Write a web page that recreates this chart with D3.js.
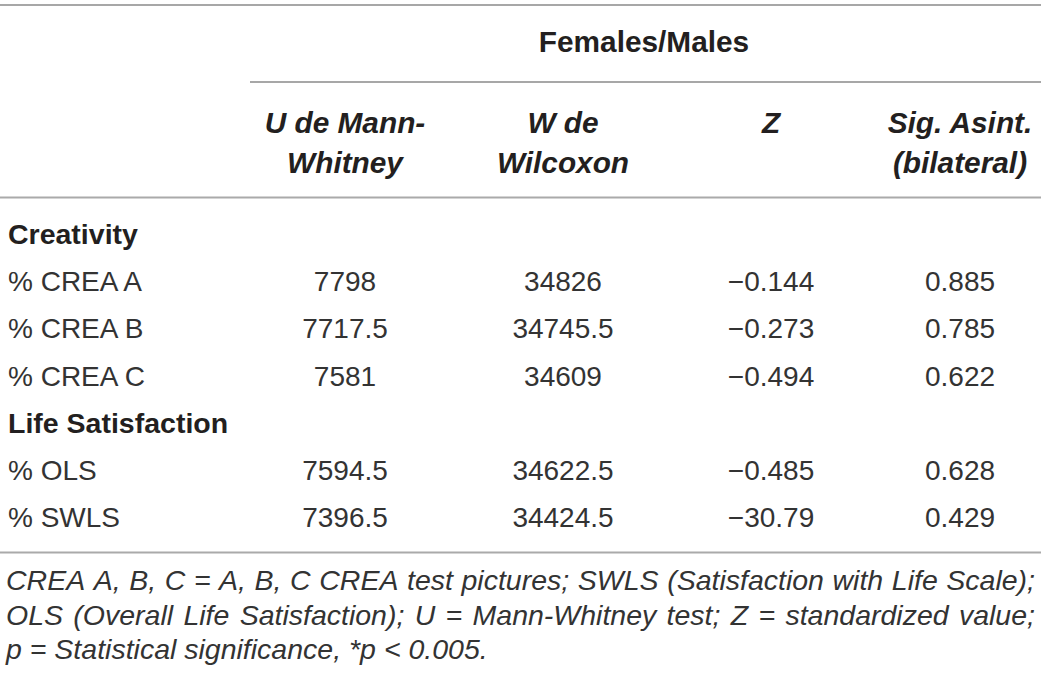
<!DOCTYPE html>
<html>
<head>
<meta charset="utf-8">
<script src="https://cdn.jsdelivr.net/npm/d3@7"></script>
<style>
  html, body { margin: 0; padding: 0; background: #fff; }
  svg { display: block; }
</style>
</head>
<body>
<svg id="chart" width="1041" height="676"></svg>
<script>
// ---------- data ----------
const groupTitle = "Females/Males";
const columnHeaders = [
  ["U de Mann-", "Whitney"],
  ["W de", "Wilcoxon"],
  ["Z"],
  ["Sig. Asint.", "(bilateral)"]
];
const sections = ["Creativity", "Life Satisfaction"];
const rowLabels = ["% CREA A", "% CREA B", "% CREA C", "% OLS", "% SWLS"];
const rowSection = [0, 0, 0, 1, 1];
const uValues = ["7798", "7717.5", "7581", "7594.5", "7396.5"];
const wValues = ["34826", "34745.5", "34609", "34622.5", "34424.5"];
const zValues = ["\u22120.144", "\u22120.273", "\u22120.494", "\u22120.485", "\u221230.79"];
const sigValues = ["0.885", "0.785", "0.622", "0.628", "0.429"];
const footnoteLines = [
  "CREA A, B, C = A, B, C CREA test pictures; SWLS (Satisfaction with Life Scale);",
  "OLS (Overall Life Satisfaction); U = Mann-Whitney test; Z = standardized value;",
  "p = Statistical significance, *p < 0.005."
];
const footnoteJustify = [true, true, false];

// ---------- layout ----------
const svg = d3.select("#chart");
const FONT = "'Liberation Sans', Arial, Helvetica, sans-serif";
const W = 1041;
const bodySize = 28;
const sectionSize = 28.5;
const headSize = 29.8;
const textColor = "#231f20";

// build row sequence: section header followed by its rows
const sequence = [];
sections.forEach((s, si) => {
  sequence.push({ type: "section", label: s });
  rowLabels.forEach((r, i) => {
    if (rowSection[i] === si) sequence.push({ type: "row", label: r, idx: i });
  });
});

const yRow = d3.scalePoint()
  .domain(d3.range(sequence.length))
  .range([244, 527]);

const colKeys = ["u", "w", "z", "sig"];
const xCol = d3.scaleOrdinal().domain(colKeys).range([345, 563, 771, 960]);
const colValues = { u: uValues, w: wValues, z: zValues, sig: sigValues };

// rules
const rules = [
  { x1: 0, x2: W, y: 5, c: "#8a8a8a", w: 1.6 },
  { x1: 250, x2: W, y: 82, c: "#8a8a8a", w: 1.6 },
  { x1: 0, x2: W, y: 197.5, c: "#aaaaaa", w: 2 },
  { x1: 0, x2: W, y: 552.5, c: "#aaaaaa", w: 2.2 }
];
svg.selectAll("line.rule").data(rules).join("line")
  .attr("class", "rule")
  .attr("x1", d => d.x1).attr("x2", d => d.x2)
  .attr("y1", d => d.y).attr("y2", d => d.y)
  .attr("stroke", d => d.c).attr("stroke-width", d => d.w);

// group title
svg.append("text")
  .attr("x", 644).attr("y", 52)
  .attr("text-anchor", "middle")
  .attr("font-family", FONT).attr("font-weight", "bold")
  .attr("font-size", headSize).attr("fill", textColor)
  .text(groupTitle);

// column headers
const headerBaselines = [133, 173];
colKeys.forEach((k, ci) => {
  const lines = columnHeaders[ci];
  const t = svg.append("text")
    .attr("text-anchor", "middle")
    .attr("font-family", FONT).attr("font-weight", "bold")
    .attr("font-style", "italic")
    .attr("font-size", headSize).attr("fill", textColor);
  lines.forEach((ln, li) => {
    t.append("tspan").attr("x", xCol(k)).attr("y", headerBaselines[li]).text(ln);
  });
});

// body rows
sequence.forEach((d, i) => {
  if (d.type === "section") {
    svg.append("text")
      .attr("x", 8).attr("y", yRow(i))
      .attr("font-family", FONT).attr("font-weight", "bold")
      .attr("font-size", sectionSize).attr("fill", textColor)
      .text(d.label);
  } else {
    svg.append("text")
      .attr("x", 8).attr("y", yRow(i))
      .attr("font-family", FONT)
      .attr("font-size", bodySize).attr("fill", "#333")
      .text(d.label);
    colKeys.forEach(k => {
      svg.append("text")
        .attr("x", xCol(k)).attr("y", yRow(i))
        .attr("text-anchor", "middle")
        .attr("font-family", FONT)
        .attr("font-size", bodySize).attr("fill", "#333")
        .text(colValues[k][d.idx]);
    });
  }
});

// footnote (justified lines)
const footSize = 28.5;
const footBase = d3.scalePoint().domain(d3.range(footnoteLines.length)).range([590, 659]);
const footLeft = 6, footRight = 1035;
footnoteLines.forEach((line, li) => {
  const g = svg.append("text")
    .attr("font-family", FONT).attr("font-style", "italic")
    .attr("font-size", footSize).attr("fill", "#333")
    .attr("y", footBase(li));
  const words = line.split(" ");
  const spans = words.map(w => g.append("tspan").text(w));
  const widths = spans.map(s => s.node().getComputedTextLength());
  const spaceW = footSize * 0.278;
  const total = d3.sum(widths);
  let gap = spaceW;
  if (footnoteJustify[li] && words.length > 1) {
    gap = (footRight - footLeft - total) / (words.length - 1);
  }
  let x = footLeft;
  spans.forEach((s, i) => {
    s.attr("x", x);
    x += widths[i] + gap;
  });
});
</script>
</body>
</html>
